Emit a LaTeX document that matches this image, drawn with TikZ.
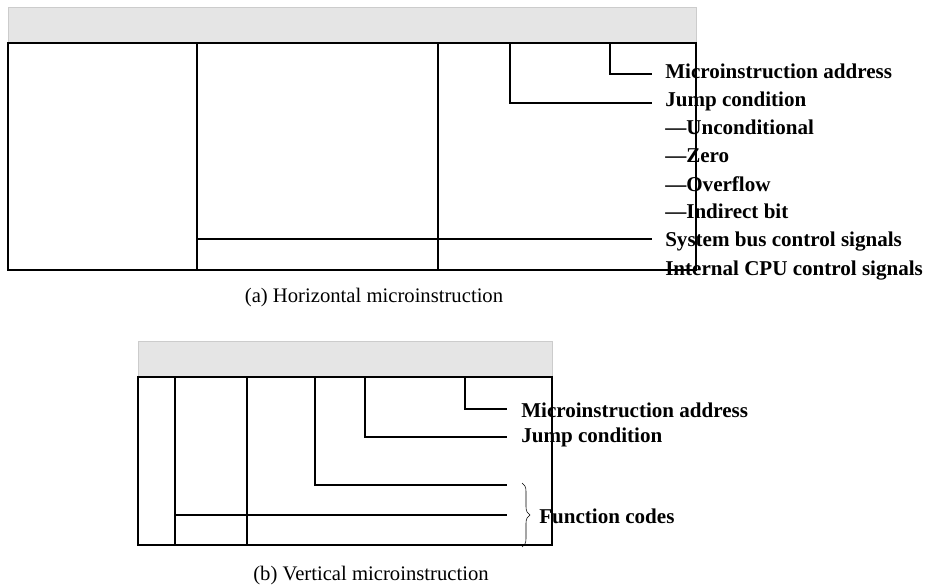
\documentclass[tikz,border=0pt]{standalone}
\usepackage{fontspec}
\setmainfont{Liberation Serif}
\usetikzlibrary{decorations.pathreplacing}
\tikzset{
  header/.style={fill=gray!20,draw=gray!40,line width=0.4pt},
  field/.style={draw,line width=0.8pt},
  wire/.style={line width=0.8pt},
  tag/.style={anchor=base west,inner sep=0pt,font=\fontsize{15.8}{18}\selectfont\bfseries},
  caption/.style={anchor=base,inner sep=0pt,font=\fontsize{15.5}{18}\selectfont}
}
\begin{document}
\begin{tikzpicture}[x=0.75pt,y=-0.75pt]
\useasboundingbox (0,0) rectangle (933,585);

% (a) horizontal format
\draw[header] (8,7) rectangle (696,43);
\draw[field] (8,43) rectangle (696,270);
\draw[field] (197,43) -- (197,270);
\draw[field] (438,43) -- (438,270);
\coordinate (ha-top) at (610,43);
\coordinate (hj-top) at (510,43);
\coordinate (hs-left) at (197,239);
\coordinate (ha-end) at (652,74);
\coordinate (hj-end) at (652,103);
\coordinate (hs-end) at (652,239);
\draw[wire] (ha-top) |- (ha-end);
\draw[wire] (hj-top) |- (hj-end);
\draw[wire] (hs-left) -- (hs-end);

\node[tag] (haddr) at (665,79) {Microinstruction address};
\node[tag] (hjump) at (665,107) {Jump condition};
\node[tag] (huncond) at (665,135) {---Unconditional};
\node[tag] (hzero) at (665,163) {---Zero};
\node[tag] (hovf) at (665,191) {---Overflow};
\node[tag] (hind) at (665,219) {---Indirect bit};
\node[tag] (hsys) at (665,247) {System bus control signals};
\node[tag] (hcpu) at (665,275) {Internal CPU control signals};
\node[caption] (capa) at (374,302) {(a) Horizontal microinstruction};

% (b) vertical format
\draw[header] (138,341) rectangle (552,377);
\draw[field] (138,377) rectangle (552,545);
\draw[field] (175,377) -- (175,545);
\draw[field] (247,377) -- (247,545);
\coordinate (va-top) at (465,377);
\coordinate (vj-top) at (365,377);
\coordinate (vf-top) at (315,377);
\coordinate (vg-left) at (175,515);
\coordinate (va-end) at (507,409);
\coordinate (vj-end) at (507,437);
\coordinate (vf-end) at (507,485);
\coordinate (vg-end) at (507,515);
\draw[wire] (va-top) |- (va-end);
\draw[wire] (vj-top) |- (vj-end);
\draw[wire] (vf-top) |- (vf-end);
\draw[wire] (vg-left) -- (vg-end);

\node[tag] (vaddr) at (521,417) {Microinstruction address};
\node[tag] (vjump) at (521,442) {Jump condition};
\node[tag] (vfunc) at (539,523) {Function codes};
\coordinate (br-top) at (522,483);
\coordinate (br-bot) at (522,547);
\draw[thin,decorate,decoration={brace,amplitude=6pt}] (br-top) -- (br-bot);
\node[caption] (capb) at (371,580) {(b) Vertical microinstruction};
\end{tikzpicture}
\end{document}
